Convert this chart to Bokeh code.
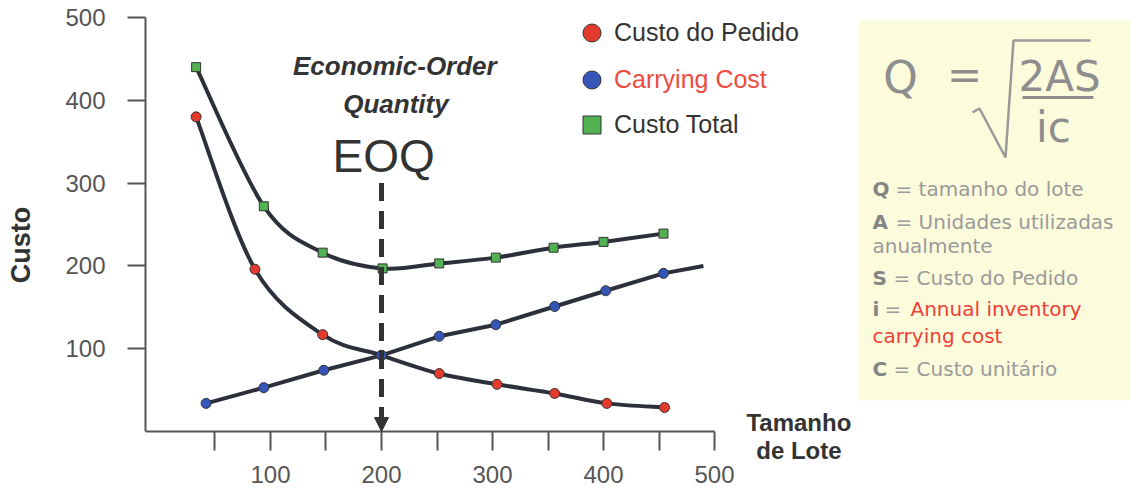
from bokeh.plotting import figure
from bokeh.models import (Range1d, FixedTicker, Label, Arrow, NormalHead, Legend,
                          LegendItem, ColumnDataSource)
from bokeh.core.properties import value
from bokeh.layouts import row
from bokeh.embed import file_html
from bokeh.resources import INLINE

# ---------------- data ----------------
pedido_x = [33, 86, 147, 200, 252, 304, 356, 403, 455]
pedido_y = [380, 196, 117, 92, 70, 57, 46, 34, 29]

carrying_x = [42, 94, 148, 200, 252, 303, 356, 402, 454]
carrying_y = [34, 53, 74, 92, 115, 129, 151, 170, 191]
carrying_line_end_x = [490]
carrying_line_end_y = [200]

total_x = [33, 94, 147, 201, 252, 303, 355, 400, 454]
total_y = [440, 272, 216, 197, 203, 210, 222, 229, 239]

eoq_x = 200
eoq_top = 300

x_ticks = [50, 100, 150, 200, 250, 300, 350, 400, 450, 500]
x_tick_labels = {50: "", 100: "100", 150: "", 200: "200", 250: "", 300: "300",
                 350: "", 400: "400", 450: "", 500: "500"}
y_ticks = [100, 200, 300, 400, 500]

series_names = ["Custo do Pedido", "Carrying Cost", "Custo Total"]

# ---------------- styles ----------------
FONT = "Liberation Sans"
LINE = "#2b303b"
RED = "#e43a2d"
BLUE = "#3556b8"
GREEN = "#52b152"
OUT = "#333333"


def bezier_source(xs, ys):
    n = len(xs)
    d = dict(x0=[], y0=[], x1=[], y1=[], cx0=[], cy0=[], cx1=[], cy1=[])
    for i in range(n - 1):
        a = max(i - 1, 0)
        b = min(i + 2, n - 1)
        d["x0"].append(xs[i]); d["y0"].append(ys[i])
        d["x1"].append(xs[i + 1]); d["y1"].append(ys[i + 1])
        d["cx0"].append(xs[i] + (xs[i + 1] - xs[a]) / 6.0)
        d["cy0"].append(ys[i] + (ys[i + 1] - ys[a]) / 6.0)
        d["cx1"].append(xs[i + 1] - (xs[b] - xs[i]) / 6.0)
        d["cy1"].append(ys[i + 1] - (ys[b] - ys[i]) / 6.0)
    return ColumnDataSource(d)


# frame spans x 145..858 px and y 0..489 px
X_START, X_END = -12.6, 629.7
Y_START, Y_END = -70.0, 520.5

p = figure(width=858, height=489, output_backend="svg", toolbar_location=None,
           x_range=Range1d(X_START, X_END), y_range=Range1d(Y_START, Y_END),
           min_border_left=145, min_border_right=0, min_border_top=0,
           min_border_bottom=0)
p.outline_line_color = None
p.grid.visible = False
p.background_fill_color = "white"
p.border_fill_color = "white"

for ax in (p.xaxis[0], p.yaxis[0]):
    ax.axis_line_color = "#555555"
    ax.axis_line_width = 2
    ax.major_tick_line_color = "#555555"
    ax.major_tick_line_width = 2
    ax.major_tick_in = 0
    ax.minor_tick_line_color = None
    ax.major_label_text_font = FONT
    ax.major_label_text_font_size = "24px"
    ax.major_label_text_color = "#555555"

p.xaxis.ticker = FixedTicker(ticks=x_ticks)
p.xaxis.major_label_overrides = x_tick_labels
p.xaxis.major_tick_out = 19
p.xaxis.major_label_standoff = 15
p.xaxis.fixed_location = 0
p.xaxis.bounds = (X_START, 500)

p.yaxis.ticker = FixedTicker(ticks=y_ticks)
p.yaxis.major_tick_out = 18
p.yaxis.major_label_standoff = 22
p.yaxis.bounds = (0, 500)
p.yaxis.axis_label = "Custo"
p.yaxis.axis_label_text_font = FONT
p.yaxis.axis_label_text_font_style = "bold"
p.yaxis.axis_label_text_font_size = "27px"
p.yaxis.axis_label_text_color = "#333333"
p.yaxis.axis_label_standoff = 26

# curves
for xs, ys in ((pedido_x, pedido_y), (total_x, total_y)):
    p.bezier(x0="x0", y0="y0", x1="x1", y1="y1", cx0="cx0", cy0="cy0",
             cx1="cx1", cy1="cy1", source=bezier_source(xs, ys),
             line_color=LINE, line_width=4)
p.line(carrying_x + carrying_line_end_x, carrying_y + carrying_line_end_y,
       line_color=LINE, line_width=4)

# EOQ arrow
p.add_layout(Arrow(x_start=eoq_x, y_start=eoq_top, x_end=eoq_x, y_end=0,
                   line_color="#333333", line_width=5, line_dash="18 10",
                   end=NormalHead(size=14, fill_color="#333333",
                                  line_color="#333333", line_width=1)))

# markers
r_ped = p.scatter(pedido_x, pedido_y, marker="circle", size=10,
                  fill_color=RED, line_color=OUT, line_width=1)
r_car = p.scatter(carrying_x, carrying_y, marker="circle", size=10,
                  fill_color=BLUE, line_color=OUT, line_width=1)
r_tot = p.scatter(total_x, total_y, marker="square", size=9,
                  fill_color=GREEN, line_color=OUT, line_width=1)

# legends (one per item so each label can have its own colour)
legend_specs = [
    (series_names[0], r_ped, "#333333", 434),
    (series_names[1], r_car, "#ee4a40", 387),
    (series_names[2], r_tot, "#333333", 342),
]
for name, rend, col, yb in legend_specs:
    lg = Legend(items=[LegendItem(label=value(name), renderers=[rend])],
                location=(424, yb), glyph_width=45, glyph_height=45,
                label_standoff=0, padding=0, margin=0, spacing=0,
                border_line_color=None, background_fill_alpha=0,
                label_text_font=FONT, label_text_font_size="25px",
                label_text_color=col)
    p.add_layout(lg)

# annotations
p.add_layout(Label(x=212, y=442, text="Economic-Order", text_align="center",
                   text_baseline="middle", text_font=FONT,
                   text_font_style="bold italic", text_font_size="26px",
                   text_color="#333333"))
p.add_layout(Label(x=213, y=396, text="Quantity", text_align="center",
                   text_baseline="middle", text_font=FONT,
                   text_font_style="bold italic", text_font_size="26px",
                   text_color="#333333"))
p.add_layout(Label(x=202, y=333, text="EOQ", text_align="center",
                   text_baseline="middle", text_font=FONT,
                   text_font_size="46px", text_color="#333333"))
p.add_layout(Label(x=576, y=11, text="Tamanho", text_align="center",
                   text_baseline="middle", text_font=FONT,
                   text_font_style="bold", text_font_size="24px",
                   text_color="#333333"))
p.add_layout(Label(x=576, y=-23, text="de Lote", text_align="center",
                   text_baseline="middle", text_font=FONT,
                   text_font_style="bold", text_font_size="24px",
                   text_color="#333333"))

# ---------------- formula panel ----------------
q = figure(width=273, height=489, output_backend="svg", toolbar_location=None,
           x_range=Range1d(858, 1131), y_range=Range1d(489, 0),
           x_axis_location=None, y_axis_location=None,
           min_border=0)
q.outline_line_color = None
q.grid.visible = False
q.background_fill_color = "white"
q.border_fill_color = "white"

q.quad(left=[856], right=[1130], top=[20], bottom=[400],
       fill_color="#fcfbdc", line_color=None)

FF = "DejaVu Sans"
GRAY = "#8e8e8e"


def qlabel(x, y, text, size, color=GRAY, style="normal", align="left"):
    q.add_layout(Label(x=x, y=y, text=text, text_align=align,
                       text_baseline="middle", text_font=FF,
                       text_font_style=style, text_font_size=size,
                       text_color=color))


qlabel(900, 77, "Q", "44px", align="center")
qlabel(964, 74, "=", "42px", align="center")
qlabel(1059, 76, "2AS", "42px", align="center")
qlabel(1053, 127, "ic", "42px", align="center")
q.line([972, 979, 1005, 1013, 1090], [112, 108, 157, 40, 40],
       line_color="#999999", line_width=2.5)
q.line([1022, 1093], [97, 97], line_color="#8e8e8e", line_width=3)

TXT = "#9a9a9a"
BOLD = "#858585"
RED_T = "#ee4035"
FS = "20px"
lines = [
    (188, "Q", 895, "= tamanho do lote", TXT),
    (221, "A", 895, "= Unidades utilizadas", TXT),
    (277, "S", 893, "= Custo do Pedido", TXT),
    (368, "C", 893, "= Custo unitário", TXT),
]
for y, b, x2, t, c in lines:
    qlabel(872, y, b, FS, color=BOLD, style="bold")
    qlabel(x2, y, t, FS, color=c)
qlabel(872, 245, "anualmente", FS, color=TXT)
qlabel(872, 308, "i", FS, color=BOLD, style="bold")
qlabel(884, 308, "=", FS, color=TXT)
qlabel(910, 308, "Annual inventory", FS, color=RED_T)
qlabel(872, 335, "carrying cost", FS, color=RED_T)

layout = row(p, q)
open("out.html", "w").write(file_html(layout, INLINE))
